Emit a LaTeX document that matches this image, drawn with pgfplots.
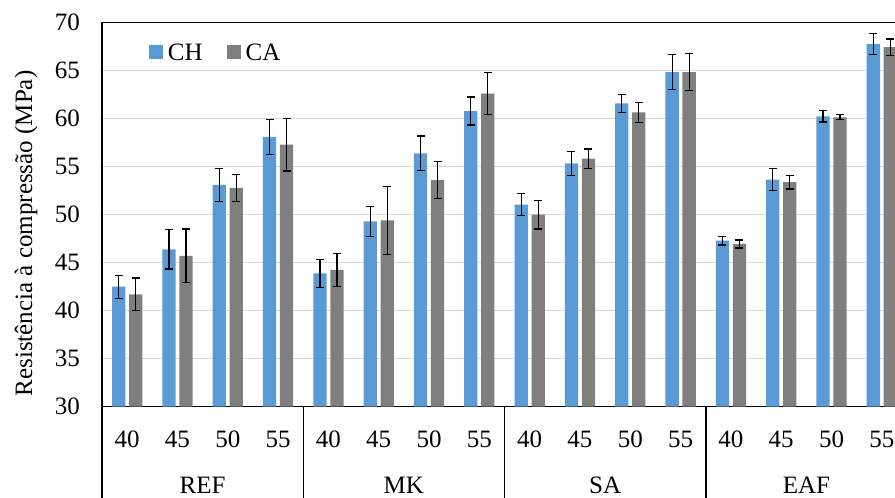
\documentclass[border=0pt]{standalone}
\usepackage{fontspec}
\setmainfont{Liberation Serif}
\usepackage{pgfplots}
\usepackage{pgfplotstable}
\pgfplotsset{compat=1.18}
\definecolor{chblue}{HTML}{5B9BD5}
\definecolor{cagray}{HTML}{7F7F7F}
\definecolor{gridgray}{HTML}{D9D9D9}

\pgfplotstableread{
x ch chE ca caE
0 42.5 1.2 41.7 1.7
1 46.4 2.05 45.7 2.8
2 53.1 1.75 52.8 1.4
3 58.1 1.8 57.3 2.75
4 43.9 1.45 44.25 1.7
5 49.3 1.55 49.4 3.55
6 56.4 1.8 53.6 1.9
7 60.8 1.45 62.6 2.2
8 51.05 1.15 50.0 1.5
9 55.35 1.25 55.85 1.0
10 61.6 0.95 60.65 1.05
11 64.85 1.8 64.85 1.95
12 47.3 0.45 46.95 0.42
13 53.65 1.15 53.4 0.72
14 60.25 0.6 60.15 0.25
15 67.8 1.1 67.45 0.85
}\datatable

\begin{document}
\fontsize{25bp}{30bp}\selectfont
\begin{tikzpicture}
\begin{axis}[
  at={(102bp,91.3bp)}, anchor=south west,
  scale only axis, width=805bp, height=384bp,
  xmin=-0.5, xmax=15.5, ymin=30, ymax=70,
  ytick={30,35,...,70},
  xtick={0,...,15},
  xticklabels={40,45,50,55,40,45,50,55,40,45,50,55,40,45,50,55},
  major tick length=0pt,
  ymajorgrids, grid style={gridgray, line width=1.3bp},
  axis line style={black, line width=1.5bp},
  /pgf/number format/assume math mode=true,
  yticklabel style={inner sep=0pt, anchor=east, xshift=-22bp},
  xticklabel style={inner sep=0pt, anchor=base, yshift=-40.3bp},
  clip=false,
  legend columns=2,
  legend style={at={(axis cs:0.434,66.77)}, anchor=west, draw=none, fill=none,
    inner sep=0pt, outer sep=0pt,
    nodes={inner sep=0pt, outer sep=0pt},
    /tikz/every odd column/.append style={column sep=5bp},
    /tikz/every even column/.append style={column sep=24bp}},
]
\addplot[ybar, bar width=13.3bp, bar shift=-8.5bp, fill=chblue, draw=none,
  legend image code/.code={\fill[chblue] (0bp,-5bp) rectangle (14bp,9bp);},
  error bars/.cd, y dir=both, y explicit,
  error bar style={black, line width=1.2bp, xshift=-8.5bp},
  error mark options={rotate=90, mark size=4bp, black, line width=1.2bp}]
  table[x=x, y=ch, y error=chE]{\datatable};
\addlegendentry{CH}
\addplot[ybar, bar width=13.3bp, bar shift=8.5bp, fill=cagray, draw=none,
  legend image code/.code={\fill[cagray] (0bp,-5bp) rectangle (14bp,9bp);},
  error bars/.cd, y dir=both, y explicit,
  error bar style={black, line width=1.2bp, xshift=8.5bp},
  error mark options={rotate=90, mark size=4bp, black, line width=1.2bp}]
  table[x=x, y=ca, y error=caE]{\datatable};
\addlegendentry{CA}
\draw[black, line width=1.5bp] (axis cs:-0.5,30) -- ++(0bp,-91.3bp);
\draw[black, line width=1.5bp] (axis cs:3.5,30) -- ++(0bp,-91.3bp);
\draw[black, line width=1.5bp] (axis cs:7.5,30) -- ++(0bp,-91.3bp);
\draw[black, line width=1.5bp] (axis cs:11.5,30) -- ++(0bp,-91.3bp);
\node[anchor=base, inner sep=0pt, yshift=-86.8bp] at (axis cs:1.5,30) {REF};
\node[anchor=base, inner sep=0pt, yshift=-86.8bp] at (axis cs:5.5,30) {MK};
\node[anchor=base, inner sep=0pt, yshift=-86.8bp] at (axis cs:9.5,30) {SA};
\node[anchor=base, inner sep=0pt, yshift=-86.8bp] at (axis cs:13.5,30) {EAF};
\end{axis}
\node[rotate=90, anchor=base, inner sep=0pt] at (32bp,264.5bp) {Resistência à compressão (MPa)};
\pgfresetboundingbox
\useasboundingbox (0,0) rectangle (895bp,498bp);
\end{tikzpicture}
\end{document}
